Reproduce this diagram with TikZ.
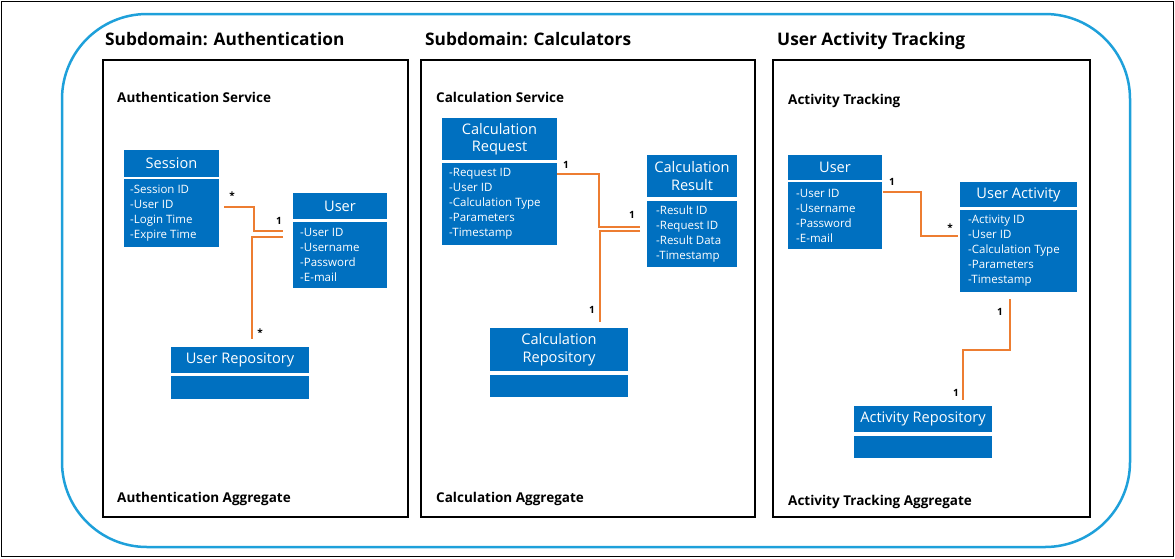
\documentclass[tikz,border=0pt]{standalone}
\usepackage{fontspec}
\setmainfont{Open Sans}
\definecolor{umlblue}{RGB}{0,112,192}
\definecolor{assoc}{RGB}{237,125,49}
\definecolor{domblue}{RGB}{30,160,218}
\begin{document}
\begin{tikzpicture}[x=1pt,y=-1pt,
  hdr/.style={fill=umlblue,text=white,inner sep=0pt,outer sep=0pt,anchor=north west,align=center,font=\fontsize{14.6}{17.5}\selectfont},
  body/.style={fill=umlblue,text=white,inner sep=0pt,outer sep=0pt,anchor=north west},
  attrs/.style={text=white,inner sep=0pt,anchor=west,align=left,font=\fontsize{11.5}{15}\selectfont},
  title/.style={anchor=base west,inner sep=0pt,font=\bfseries\fontsize{17.3}{20}\selectfont},
  sect/.style={anchor=base west,inner sep=0pt,font=\bfseries\fontsize{13.5}{15}\selectfont},
  panel/.style={draw=black,line width=2pt},
  link/.style={draw=assoc,line width=2pt},
  mult/.style={inner sep=0pt,font=\bfseries\fontsize{10}{12}\selectfont}]
\useasboundingbox (0,0) rectangle (1175,558);
\draw[black,line width=1pt] (1,1) rectangle (1173,556);
\draw[domblue,line width=2.5pt,rounded corners=85pt] (62,14) rectangle (1130,547);
% panels
\draw[panel] (103,60) rectangle (408,517);
\draw[panel] (421,60) rectangle (755,517);
\draw[panel] (773,60) rectangle (1090,517);
% titles
\node[title] (t1) at (105,45) {Subdomain: Authentication};
\node[title] (t2) at (425,45) {Subdomain: Calculators};
\node[title] (t3) at (777,45) {User Activity Tracking};
\node[sect] (s1) at (117,102) {Authentication Service};
\node[sect] (a1) at (117,502) {Authentication Aggregate};
\node[sect] (s2) at (436,102) {Calculation Service};
\node[sect] (a2) at (436,502) {Calculation Aggregate};
\node[sect] (s3) at (788,104) {Activity Tracking};
\node[sect] (a3) at (788,505) {Activity Tracking Aggregate};
% ---- left panel
\node[hdr,minimum width=95,minimum height=27] (sessH) at (124,150) {Session};
\node[body,minimum width=95,minimum height=68] (sessB) at (124,179) {};
\node[attrs] at ([xshift=6]sessB.west) {-Session ID\\-User ID\\-Login Time\\-Expire Time};
\node[hdr,minimum width=94,minimum height=26] (userH) at (293,193) {User};
\node[body,minimum width=94,minimum height=66] (userB) at (293,222) {};
\node[attrs] at ([xshift=7]userB.west) {-User ID\\-Username\\-Password\\-E-mail};
\node[hdr,minimum width=138,minimum height=26] (urepH) at (171,347) {User Repository};
\node[body,minimum width=138,minimum height=23] (urepB) at (171,376) {};
\coordinate (l1) at (224,207);
\coordinate (l2) at (283,231);
\coordinate (l3) at (283,237);
\coordinate (l4) at (252,339);
\draw[link] (l1) -| (254,231) -- (l2);
\draw[link] (l3) -| (l4);
\node[mult] at (232,196) {*};
\node[mult] at (279,221) {1};
\node[mult] at (260,333) {*};
% ---- middle panel
\node[hdr,minimum width=115,minimum height=42] (reqH) at (442,118) {Calculation\\Request};
\node[body,minimum width=115,minimum height=82] (reqB) at (442,163) {};
\node[attrs] at ([xshift=7]reqB.west) {-Request ID\\-User ID\\-Calculation Type\\-Parameters\\-Timestamp};
\node[hdr,minimum width=90,minimum height=42] (resH) at (647,155) {Calculation\\Result};
\node[body,minimum width=90,minimum height=66] (resB) at (647,201) {};
\node[attrs] at ([xshift=9]resB.west) {-Result ID\\-Request ID\\-Result Data\\-Timestamp};
\node[hdr,minimum width=138,minimum height=43] (crepH) at (490,328) {Calculation\\Repository};
\node[body,minimum width=138,minimum height=22] (crepB) at (490,375) {};
\coordinate (m1) at (557,174);
\coordinate (m2) at (640,227);
\coordinate (m3) at (640,231);
\coordinate (m4) at (600,322);
\draw[link] (m1) -| (599,227) -- (m2);
\draw[link] (m3) -| (m4);
\node[mult] at (566,165) {1};
\node[mult] at (632,215) {1};
\node[mult] at (592,310) {1};
% ---- right panel
\node[hdr,minimum width=94,minimum height=25] (usrH) at (788,155) {User};
\node[body,minimum width=94,minimum height=67] (usrB) at (788,182) {};
\node[attrs] at ([xshift=8]usrB.west) {-User ID\\-Username\\-Password\\-E-mail};
\node[hdr,minimum width=117,minimum height=25] (actH) at (960,182) {User Activity};
\node[body,minimum width=117,minimum height=82] (actB) at (960,210) {};
\node[attrs] at ([xshift=8]actB.west) {-Activity ID\\-User ID\\-Calculation Type\\-Parameters\\-Timestamp};
\node[hdr,minimum width=138,minimum height=26] (arepH) at (854,406) {Activity Repository};
\node[body,minimum width=138,minimum height=22] (arepB) at (854,436) {};
\coordinate (r1) at (883,192);
\coordinate (r2) at (958,236);
\coordinate (r3) at (1010,299);
\coordinate (r4) at (963,400);
\draw[link] (r1) -| (921,236) -- (r2);
\draw[link] (r3) -- (1010,350) -| (r4);
\node[mult] at (892,182) {1};
\node[mult] at (950,228) {*};
\node[mult] at (1000,312) {1};
\node[mult] at (956,393) {1};
\end{tikzpicture}
\end{document}
